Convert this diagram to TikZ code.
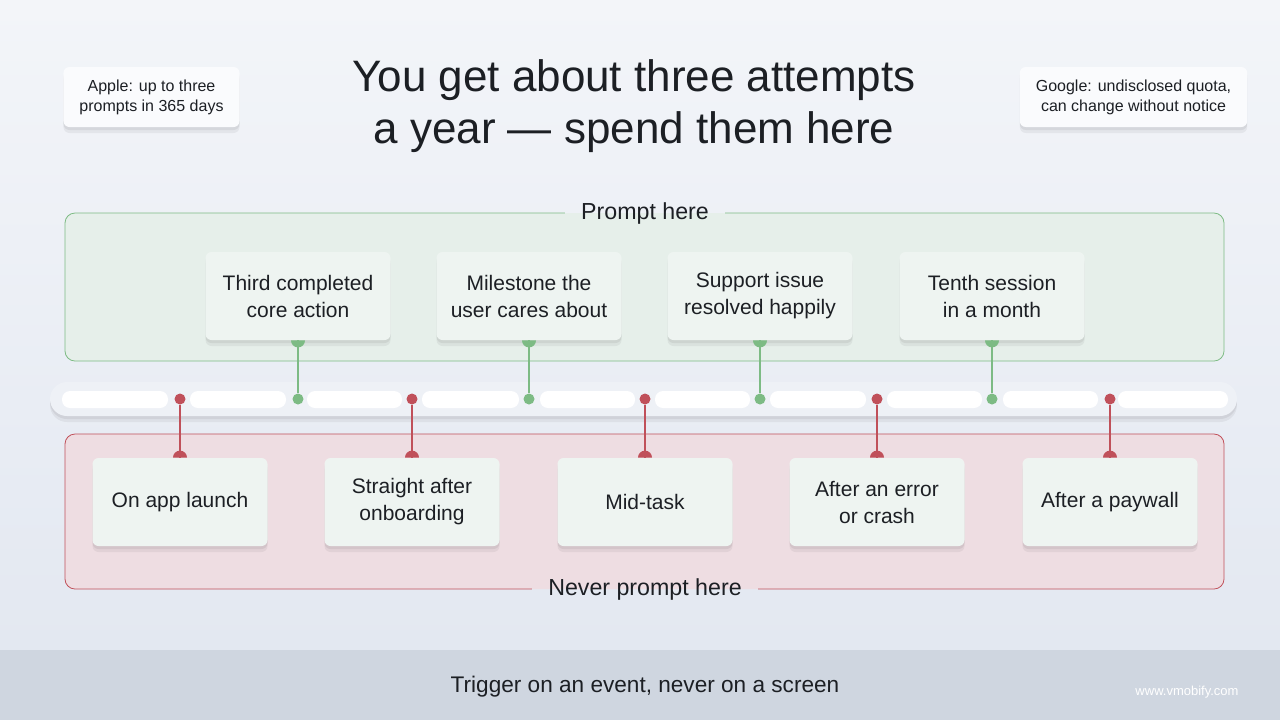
\documentclass[tikz,border=0pt]{standalone}
\usepackage{fontspec}
\setmainfont{Liberation Sans}
\definecolor{ink}{HTML}{1C1F24}
\definecolor{bgtop}{HTML}{F3F5F9}
\definecolor{bgbot}{HTML}{E3E8F1}
\definecolor{foot}{HTML}{CFD6E0}
\definecolor{cardbg}{HTML}{EEF4F1}
\definecolor{goline}{HTML}{7DBB84}
\definecolor{gofill}{HTML}{E6EFEA}
\definecolor{noline}{HTML}{C0505A}
\definecolor{nofill}{HTML}{EEDDE2}
\definecolor{trackbg}{HTML}{EEF1F6}
\begin{document}
\begin{tikzpicture}[x=0.5pt, y=-0.5pt, every node/.style={text=ink, font=\fontsize{10.5}{13.5}\selectfont}]
  \tikzstyle{soft}=[preaction={fill=black, opacity=0.05, transform canvas={yshift=-3pt}},
                    preaction={fill=black, opacity=0.06, transform canvas={yshift=-1.5pt}}]
  \tikzstyle{card}=[soft, fill=cardbg, rounded corners=3pt, minimum height=44pt, align=center, inner sep=0pt]
  \tikzstyle{note}=[soft, fill=white!60!bgtop, rounded corners=3pt, align=center, font=\fontsize{8}{10}\selectfont, inner xsep=8pt, minimum height=30pt]
  \tikzstyle{zone}=[font=\fontsize{11.6}{13}\selectfont, inner xsep=8pt]
  \tikzstyle{gdot}=[circle, fill=goline, inner sep=0pt, minimum size=5.5pt]
  \tikzstyle{rdot}=[circle, fill=noline, inner sep=0pt, minimum size=5.5pt]
  \tikzstyle{seg}=[fill=white, rounded corners=4pt]
  \useasboundingbox (0,0) rectangle (1280,720);
  % background and footer band
  \shade[top color=bgtop, bottom color=bgbot] (0,0) rectangle (1280,650);
  \fill[foot] (0,650) rectangle (1280,720);
  \node[font=\fontsize{11.3}{13}\selectfont] (footer) at (645,687) {Trigger on an event, never on a screen};
  \node[text=white, font=\fontsize{6.5}{8}\selectfont] (site) at (1187,692) {www.vmobify.com};
  % title and platform notes
  \node[align=center, font=\fontsize{22}{26}\selectfont] (title) at (634,106) {You get about three attempts\\a year --- spend them here};
  \node[note, minimum width=86.5pt] (apple) at (151.5,97) {Apple: up to three\\prompts in 365 days};
  \node[note, minimum width=108.5pt] (google) at (1133.5,97) {Google: undisclosed quota,\\can change without notice};
  % the two zones, border broken by the label
  \fill[gofill, rounded corners=5pt] (65,213) rectangle (1224,361);
  \fill[nofill, rounded corners=5pt] (65,434) rectangle (1224,589);
  \node[zone] (prompt) at (645,213) {Prompt here};
  \node[zone] (never) at (645,589) {Never prompt here};
  \draw[goline, rounded corners=5pt] (prompt.east) -- (1224,213) -- (1224,361) -- (65,361) -- (65,213) -- (prompt.west);
  \draw[noline, rounded corners=5pt] (never.west) -- (65,589) -- (65,434) -- (1224,434) -- (1224,589) -- (never.east);
  % the timeline track
  \fill[soft, trackbg, rounded corners=8.5pt] (50,382) rectangle (1237,416);
  \fill[seg] (62,391) rectangle (168,408);
  \fill[seg] (190,391) rectangle (286,408);
  \fill[seg] (307,391) rectangle (402,408);
  \fill[seg] (422,391) rectangle (519,408);
  \fill[seg] (540,391) rectangle (635,408);
  \fill[seg] (655,391) rectangle (750,408);
  \fill[seg] (770,391) rectangle (866,408);
  \fill[seg] (887,391) rectangle (982,408);
  \fill[seg] (1003,391) rectangle (1098,408);
  \fill[seg] (1118,391) rectangle (1228,408);
  % good moments
  \node[card, minimum width=92.5pt] (g1) at (298,296) {Third completed\\core action};
  \node[card, minimum width=92.5pt] (g2) at (529,296) {Milestone the\\user cares about};
  \node[card, minimum width=92.5pt] (g3) at (760,296) {Support issue\\resolved happily};
  \node[card, minimum width=92.5pt] (g4) at (992,296) {Tenth session\\in a month};
  \node[gdot] (gd1) at (298,399) {}; \node[gdot] (gd2) at (529,399) {};
  \node[gdot] (gd3) at (760,399) {}; \node[gdot] (gd4) at (992,399) {};
  \foreach \i in {1,...,4} {
    \fill[goline] (g\i.south) ++(-7,0) arc (180:0:7) -- cycle;
    \draw[goline, line width=0.8pt] (g\i.south) -- (gd\i);
  }
  % bad moments
  \node[card, minimum width=87.5pt] (r1) at (180,502) {On app launch};
  \node[card, minimum width=87.5pt] (r2) at (412,502) {Straight after\\onboarding};
  \node[card, minimum width=87.5pt] (r3) at (645,502) {Mid-task};
  \node[card, minimum width=87.5pt] (r4) at (877,502) {After an error\\or crash};
  \node[card, minimum width=87.5pt] (r5) at (1110,502) {After a paywall};
  \node[rdot] (rd1) at (180,399) {}; \node[rdot] (rd2) at (412,399) {};
  \node[rdot] (rd3) at (645,399) {}; \node[rdot] (rd4) at (877,399) {};
  \node[rdot] (rd5) at (1110,399) {};
  \foreach \i in {1,...,5} {
    \fill[noline] (r\i.north) ++(-7,0) arc (180:360:7) -- cycle;
    \draw[noline, line width=0.8pt] (rd\i) -- (r\i.north);
  }
\end{tikzpicture}
\end{document}
